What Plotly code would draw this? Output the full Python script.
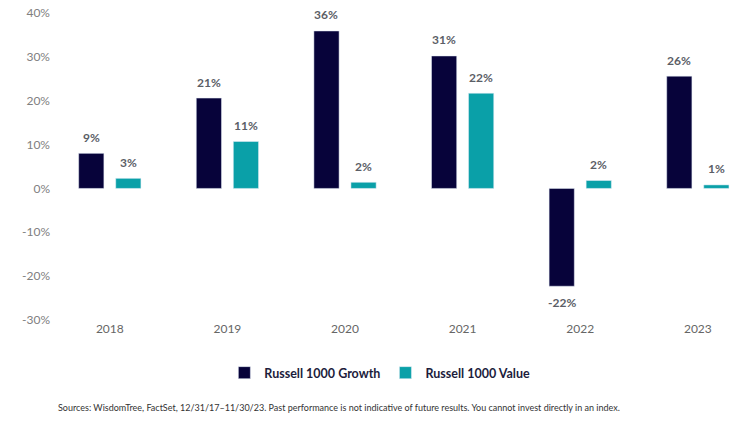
import plotly.graph_objects as go

years = ["2018", "2019", "2020", "2021", "2022", "2023"]
growth = [8.0, 20.6, 35.9, 30.2, -22.3, 25.6]
value = [2.3, 10.7, 1.4, 21.7, 1.8, 0.8]
growth_labels = ["9%", "21%", "36%", "31%", "-22%", "26%"]
value_labels = ["3%", "11%", "2%", "22%", "2%", "1%"]
yticks = [-30, -20, -10, 0, 10, 20, 30, 40]
ytick_text = [f"{v}%" for v in yticks]

GROWTH_C = "#07033a"
VALUE_C = "#0aa0a8"
FONT = "Lato"

fig = go.Figure()
fig.add_trace(go.Bar(x=years, y=growth, name="Russell 1000 Growth", marker_color=GROWTH_C,
                     offsetgroup="g", hoverinfo="skip"))
fig.add_trace(go.Bar(x=years, y=value, name="Russell 1000 Value", marker_color=VALUE_C,
                     offsetgroup="v", hoverinfo="skip"))

bargap = 0.37
bargroupgap = 0.32
annotations = []
for i, yr in enumerate(years):
    for vals, labs, off in ((growth, growth_labels, -0.5), (value, value_labels, 0.5)):
        v = vals[i]
        annotations.append(dict(
            x=i + off * (1 - bargap) / 2, y=v, xref="x", yref="y",
            text=labs[i], showarrow=False,
            yshift=16 if v >= 0 else -16,
            font=dict(family=FONT, size=12, color="#5b5e66", weight="bold"),
        ))

H_PLOT = 422 - 13 - 102
annotations.append(dict(
    x=0.007, y=(320 - 407) / H_PLOT, xref="paper", yref="paper",
    xanchor="left", yanchor="middle",
    text="Sources: WisdomTree, FactSet, 12/31/17–11/30/23. Past performance is not indicative of future results. You cannot invest directly in an index.",
    showarrow=False, font=dict(family=FONT, size=9, color="#333")))

fig.update_layout(
    width=739, height=422,
    margin=dict(l=51, r=0, t=13, b=102),
    paper_bgcolor="white", plot_bgcolor="white",
    barmode="group", bargap=bargap, bargroupgap=bargroupgap,
    font=dict(family=FONT, color="#666"),
    xaxis=dict(type="category", range=[-0.5, 5.35], showgrid=False, showline=False,
               ticks="", tickfont=dict(size=12, color="#666")),
    yaxis=dict(range=[-30, 40], tickvals=yticks, ticktext=ytick_text, showgrid=False,
               zeroline=False, showline=False, ticks="", tickfont=dict(size=12, color="#808080")),
    legend=dict(orientation="h", x=0.478, xanchor="center", y=(320 - 373) / H_PLOT, yanchor="middle",
                font=dict(family=FONT, size=12.5, color="#1c1c3c", weight="bold"),
                itemwidth=30, traceorder="normal"),
    annotations=annotations,
    showlegend=True,
)

fig.write_html("out.html")
